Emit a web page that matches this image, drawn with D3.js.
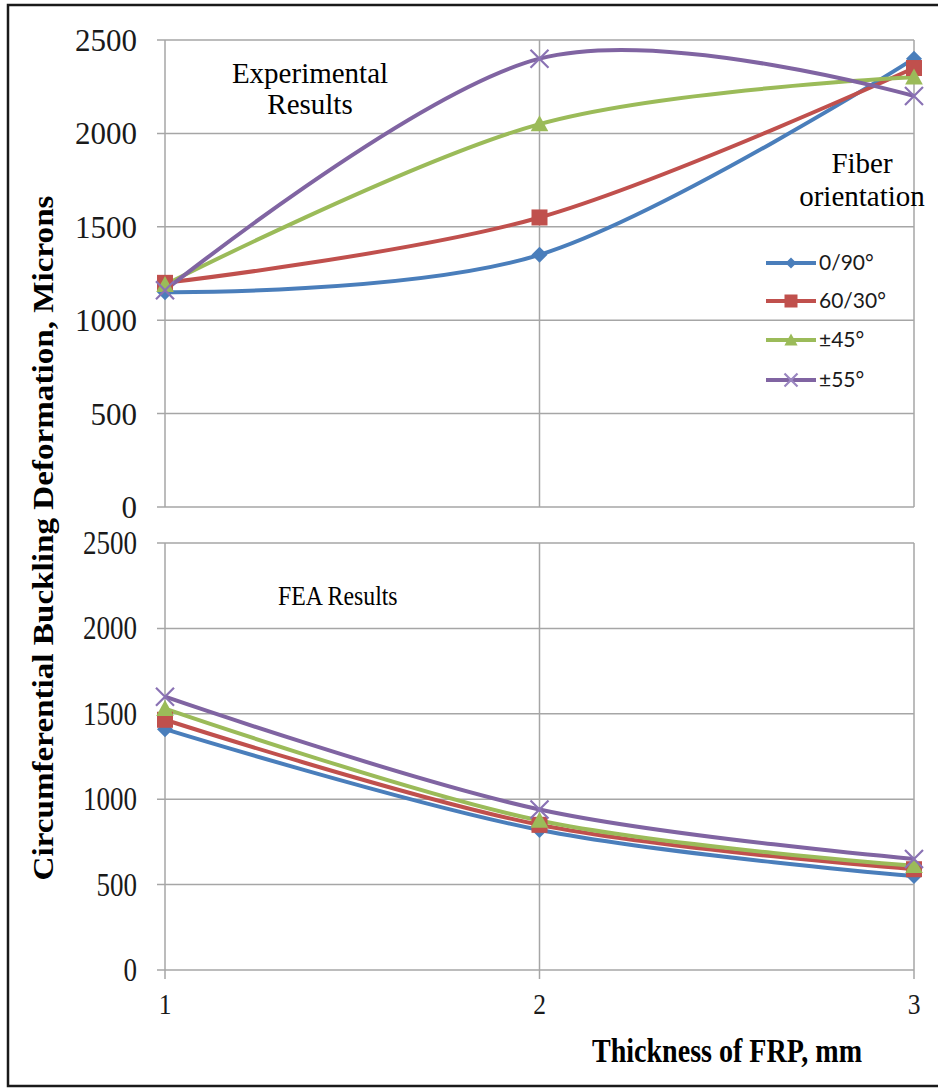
<!DOCTYPE html>
<html>
<head>
<meta charset="utf-8">
<script src="https://cdn.jsdelivr.net/npm/d3@7"></script>
<style>
  html, body { margin: 0; padding: 0; background: #fff; }
  svg { display: block; }
</style>
</head>
<body>
<div id="chart"></div>
<script>
/* Circumferential buckling vs FRP thickness: experimental (top) and FEA (bottom). */

var thickness = [1, 2, 3];
var seriesNames = ["0/90°", "60/30°", "±45°", "±55°"];
var seriesColors = ["#4a7ebb", "#c0504d", "#9bbb59", "#8064a2"];
var seriesSymbols = ["diamond", "square", "triangle", "cross"];

var experimental0_90 = [1150, 1350, 2400];
var experimental60_30 = [1200, 1550, 2350];
var experimental45 = [1190, 2050, 2300];
var experimental55 = [1160, 2400, 2200];

var fea0_90 = [1410, 820, 550];
var fea60_30 = [1465, 850, 590];
var fea45 = [1530, 875, 610];
var fea55 = [1600, 940, 650];

var yTicks = [0, 500, 1000, 1500, 2000, 2500];

var width = 940, height = 1089;
var serif = "Liberation Serif, Times New Roman, serif";
var svg = d3.select("#chart").append("svg")
  .attr("width", width).attr("height", height);

// outer frame (no right edge in the source)
svg.append("path")
  .attr("d", "M938,5 H8 V1086 H938")
  .attr("fill", "none").attr("stroke", "#1a1a1a").attr("stroke-width", 2.5);

var x = d3.scaleLinear().domain([1, 3]).range([165, 914]);

var panels = [
  { top: 40, bottom: 507, data: [experimental0_90, experimental60_30, experimental45, experimental55], condensed: false },
  { top: 543, bottom: 970, data: [fea0_90, fea60_30, fea45, fea55], condensed: true }
];

var grid = "#a6a6a6";

function marker(g, type, cx, cy, s, color) {
  if (type === "diamond") {
    g.append("path").attr("d", "M" + cx + "," + (cy - s / 2) + " L" + (cx + s / 2) + "," + cy +
      " L" + cx + "," + (cy + s / 2) + " L" + (cx - s / 2) + "," + cy + "Z").attr("fill", color);
  } else if (type === "square") {
    g.append("rect").attr("x", cx - s / 2).attr("y", cy - s / 2).attr("width", s).attr("height", s).attr("fill", color);
  } else if (type === "triangle") {
    g.append("path").attr("d", "M" + cx + "," + (cy - s * 0.55) + " L" + (cx + s * 0.55) + "," + (cy + s * 0.45) +
      " L" + (cx - s * 0.55) + "," + (cy + s * 0.45) + "Z").attr("fill", color);
  } else {
    var h = s / 2;
    g.append("path").attr("d", "M" + (cx - h) + "," + (cy - h) + " L" + (cx + h) + "," + (cy + h) +
      " M" + (cx + h) + "," + (cy - h) + " L" + (cx - h) + "," + (cy + h))
      .attr("stroke", color).attr("stroke-width", 2.2).attr("fill", "none");
  }
}

panels.forEach(function (p) {
  var y = d3.scaleLinear().domain([0, 2500]).range([p.bottom, p.top]);
  var g = svg.append("g");

  // horizontal gridlines with small left ticks
  g.selectAll("line.h").data(yTicks).enter().append("line")
    .attr("x1", x(1) - 8).attr("x2", x(3))
    .attr("y1", function (d) { return y(d); }).attr("y2", function (d) { return y(d); })
    .attr("stroke", grid).attr("stroke-width", 1.5);

  // vertical gridlines
  g.selectAll("line.v").data(thickness).enter().append("line")
    .attr("x1", function (d) { return x(d); }).attr("x2", function (d) { return x(d); })
    .attr("y1", y(2500)).attr("y2", p.condensed ? y(0) + 9 : y(0))
    .attr("stroke", grid).attr("stroke-width", 1.5);

  // y tick labels
  g.selectAll("text.yt").data(yTicks).enter().append("text")
    .attr("text-anchor", "end")
    .attr("font-family", serif)
    .attr("font-size", p.condensed ? 33 : 31)
    .attr("fill", "#1a1a1a")
    .attr("transform", function (d) {
      return "translate(137," + (y(d) + 11) + ")" + (p.condensed ? " scale(0.82,1)" : "");
    })
    .text(function (d) { return d; });

  var line = d3.line()
    .x(function (d, i) { return x(thickness[i]); })
    .y(function (d) { return y(d); })
    .curve(d3.curveCatmullRom.alpha(0));

  p.data.forEach(function (vals, si) {
    g.append("path").datum(vals)
      .attr("d", line)
      .attr("fill", "none")
      .attr("stroke", seriesColors[si])
      .attr("stroke-width", 4);
  });
  p.data.forEach(function (vals, si) {
    var mg = g.append("g");
    vals.forEach(function (v, i) {
      marker(mg, seriesSymbols[si], x(thickness[i]), y(v), seriesSymbols[si] === "cross" ? 18 : 16,
        seriesSymbols[si] === "cross" ? "#8a72b4" : seriesColors[si]);
    });
  });
});

// x tick labels
svg.selectAll("text.xt").data(thickness).enter().append("text")
  .attr("transform", function (d) { return "translate(" + x(d) + ",1014) scale(0.85,1)"; })
  .attr("text-anchor", "middle")
  .attr("font-family", serif)
  .attr("font-size", 30).attr("fill", "#1a1a1a")
  .text(function (d) { return d; });

// annotations
svg.append("text").attr("x", 310).attr("y", 83).attr("text-anchor", "middle")
  .attr("font-family", serif).attr("font-size", 29).text("Experimental");
svg.append("text").attr("x", 310).attr("y", 114).attr("text-anchor", "middle")
  .attr("font-family", serif).attr("font-size", 29).text("Results");
svg.append("text").attr("x", 862).attr("y", 173).attr("text-anchor", "middle")
  .attr("font-family", serif).attr("font-size", 29).text("Fiber");
svg.append("text").attr("x", 862).attr("y", 206).attr("text-anchor", "middle")
  .attr("font-family", serif).attr("font-size", 29).text("orientation");
svg.append("text").attr("transform", "translate(278,605) scale(0.85,1)")
  .attr("font-family", serif).attr("font-size", 28).text("FEA Results");

// axis titles
svg.append("text")
  .attr("transform", "translate(53,538) rotate(-90)")
  .attr("text-anchor", "middle")
  .attr("font-family", serif).attr("font-weight", "bold").attr("font-size", 30)
  .attr("textLength", 685).attr("lengthAdjust", "spacingAndGlyphs")
  .text("Circumferential Buckling Deformation, Microns");
svg.append("text")
  .attr("transform", "translate(727,1062) scale(0.85,1)")
  .attr("text-anchor", "middle")
  .attr("font-family", serif).attr("font-weight", "bold").attr("font-size", 33)
  .text("Thickness of FRP, mm");

// legend
var legY = [263, 301, 340, 380];
var leg = svg.append("g");
seriesNames.forEach(function (name, i) {
  leg.append("line").attr("x1", 766).attr("x2", 816).attr("y1", legY[i]).attr("y2", legY[i])
    .attr("stroke", seriesColors[i]).attr("stroke-width", 4);
  var s = [11, 13, 12, 13][i];
  marker(leg, seriesSymbols[i], 791, legY[i], s, seriesSymbols[i] === "cross" ? "#9a86c0" : seriesColors[i]);
  leg.append("text").attr("x", 819).attr("y", legY[i] + 7)
    .attr("font-family", "Lato, Noto Sans, sans-serif").attr("font-size", 21).attr("fill", "#1a1a1a")
    .text(name);
});
</script>
</body>
</html>
